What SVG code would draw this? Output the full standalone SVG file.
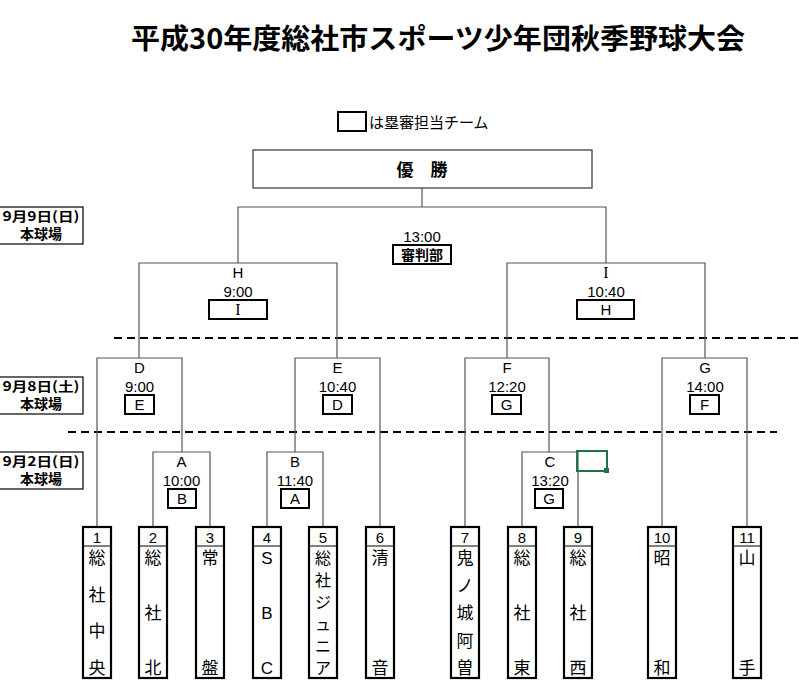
<svg xmlns="http://www.w3.org/2000/svg" width="799" height="690" viewBox="0 0 799 690">
<style>
.bg{fill:#fff}
.ln{fill:none;stroke:#555;stroke-width:1.2}
.dash{fill:none;stroke:#000;stroke-width:2;stroke-dasharray:8 5}
.rb{fill:#fff;stroke:#000;stroke-width:2}
.tb{fill:#fff;stroke:#000;stroke-width:2.2}
.dv{stroke:#000;stroke-width:1}
.thin{fill:#fff;stroke:#333;stroke-width:1.2}
.lat{font-family:"Liberation Sans",Arial,sans-serif;font-size:15px;fill:#000;text-anchor:middle}
.ser{font-family:"Liberation Serif","Times New Roman",serif;font-size:16px;fill:#000;text-anchor:middle}
.jp{font-family:"Noto Sans CJK JP","Noto Sans",sans-serif;fill:#000;text-anchor:middle}
.jpb{font-family:"Noto Sans CJK JP","Noto Sans",sans-serif;font-weight:bold;fill:#000;text-anchor:middle}
.nm{font-family:"Noto Sans CJK JP","Liberation Sans",sans-serif;font-size:17px;fill:#000;text-anchor:middle}
.num{font-family:"Liberation Sans",Arial,sans-serif;font-size:15px;fill:#000;text-anchor:middle}
</style>
<rect class="bg" x="0" y="0" width="799" height="690"/>

<g id="title">
<text x="131" y="49" class="jpb" style="text-anchor:start;font-size:28px" textLength="614" lengthAdjust="spacingAndGlyphs">平成30年度総社市スポーツ少年団秋季野球大会</text>
</g>

<g id="legend">
<rect class="rb" x="338" y="112" width="28" height="19"/>
<text x="369" y="128" class="jp" style="text-anchor:start;font-size:15px">は塁審担当チーム</text>
</g>

<g id="dates">
<g id="date-0909">
<rect x="-1" y="207" width="84" height="37" fill="#fff" stroke="#000" stroke-width="1.2"/>
<text x="41" y="221" class="jpb" style="font-size:13px" textLength="77" lengthAdjust="spacingAndGlyphs">9月9日(日)</text>
<text x="41" y="239" class="jpb" style="font-size:14px">本球場</text>
</g>
<g id="date-0908">
<rect x="-1" y="377" width="84" height="37" fill="#fff" stroke="#000" stroke-width="1.2"/>
<text x="41" y="391" class="jpb" style="font-size:13px" textLength="77" lengthAdjust="spacingAndGlyphs">9月8日(土)</text>
<text x="41" y="409" class="jpb" style="font-size:14px">本球場</text>
</g>
<g id="date-0902">
<rect x="-1" y="452" width="84" height="37" fill="#fff" stroke="#000" stroke-width="1.2"/>
<text x="41" y="466" class="jpb" style="font-size:13px" textLength="77" lengthAdjust="spacingAndGlyphs">9月2日(日)</text>
<text x="41" y="484" class="jpb" style="font-size:14px">本球場</text>
</g>
</g>

<g id="dividers">
<line class="dash" x1="114" y1="338" x2="799" y2="338"/>
<line class="dash" x1="68" y1="432" x2="777" y2="432"/>
</g>

<g id="connectors">
<path class="ln" d="M422 188V207M238 263V207H606V263"/>
<path class="ln" d="M139 358V263H337V358"/>
<path class="ln" d="M507 358V263H705V358"/>
<path class="ln" d="M97 527V358H182V452"/>
<path class="ln" d="M295 452V358H380V527"/>
<path class="ln" d="M465 527V358H549V452"/>
<path class="ln" d="M662 527V358H747V527"/>
<path class="ln" d="M153 527V452H210V527"/>
<path class="ln" d="M267 527V452H323V527"/>
<path class="ln" d="M522 527V452H578V527"/>
</g>

<g id="final">
<rect class="thin" x="253" y="150" width="339" height="38"/>
<text x="422" y="176" class="jpb" style="font-size:17px" xml:space="preserve">優　勝</text>
<text x="422" y="242" class="lat">13:00</text>
<rect class="rb" x="393" y="245" width="58" height="19"/>
<text x="422" y="260" class="jpb" style="font-size:14px">審判部</text>
</g>

<g id="match-H">
<text x="238" y="278" class="lat">H</text>
<text x="238" y="297" class="lat">9:00</text>
<rect class="rb" x="209" y="300" width="58" height="19"/>
<text x="238" y="315" class="ser">I</text>
</g>
<g id="match-I">
<text x="606" y="278" class="ser">I</text>
<text x="606" y="297" class="lat">10:40</text>
<rect class="rb" x="577" y="300" width="57" height="19"/>
<text x="606" y="315" class="lat">H</text>
</g>

<g id="match-D">
<text x="139.5" y="373" class="lat">D</text>
<text x="139.5" y="392" class="lat">9:00</text>
<rect class="rb" x="125" y="395" width="29" height="19"/>
<text x="139.5" y="410" class="lat">E</text>
</g>
<g id="match-E">
<text x="337.5" y="373" class="lat">E</text>
<text x="337.5" y="392" class="lat">10:40</text>
<rect class="rb" x="323" y="395" width="29" height="19"/>
<text x="337.5" y="410" class="lat">D</text>
</g>
<g id="match-F">
<text x="507" y="373" class="lat">F</text>
<text x="507" y="392" class="lat">12:20</text>
<rect class="rb" x="492" y="395" width="29" height="19"/>
<text x="506.5" y="410" class="lat">G</text>
</g>
<g id="match-G">
<text x="705" y="373" class="lat">G</text>
<text x="705" y="392" class="lat">14:00</text>
<rect class="rb" x="690" y="395" width="29" height="19"/>
<text x="704.5" y="410" class="lat">F</text>
</g>

<g id="match-A">
<text x="181.5" y="467" class="lat">A</text>
<text x="181.5" y="486" class="lat">10:00</text>
<rect class="rb" x="168" y="489" width="28" height="19"/>
<text x="182" y="504" class="lat">B</text>
</g>
<g id="match-B">
<text x="295" y="467" class="lat">B</text>
<text x="295" y="486" class="lat">11:40</text>
<rect class="rb" x="281" y="489" width="28" height="19"/>
<text x="295" y="504" class="lat">A</text>
</g>
<g id="match-C">
<text x="550" y="467" class="lat">C</text>
<text x="550" y="486" class="lat">13:20</text>
<rect class="rb" x="535" y="489" width="28" height="19"/>
<text x="549" y="504" class="lat">G</text>
</g>

<g id="selection">
<rect x="577" y="451" width="30" height="20" fill="none" stroke="#217346" stroke-width="2"/>
<rect x="604" y="468" width="5" height="5" fill="#217346"/>
</g>

<g id="team-1">
<rect class="tb" x="83" y="527" width="28" height="151"/><line class="dv" x1="83" y1="546" x2="111" y2="546"/>
<text x="97" y="543" class="num">1</text>
<text class="nm"><tspan x="97" y="564">総</tspan><tspan x="97" y="601">社</tspan><tspan x="97" y="637">中</tspan><tspan x="97" y="674">央</tspan></text>
</g>
<g id="team-2">
<rect class="tb" x="139" y="527" width="28" height="151"/><line class="dv" x1="139" y1="546" x2="167" y2="546"/>
<text x="153" y="543" class="num">2</text>
<text class="nm"><tspan x="153" y="564">総</tspan><tspan x="153" y="619">社</tspan><tspan x="153" y="674">北</tspan></text>
</g>
<g id="team-3">
<rect class="tb" x="196" y="527" width="28" height="151"/><line class="dv" x1="196" y1="546" x2="224" y2="546"/>
<text x="210" y="543" class="num">3</text>
<text class="nm"><tspan x="210" y="564">常</tspan><tspan x="210" y="674">盤</tspan></text>
</g>
<g id="team-4">
<rect class="tb" x="253" y="527" width="28" height="151"/><line class="dv" x1="253" y1="546" x2="281" y2="546"/>
<text x="267" y="543" class="num">4</text>
<text class="nm" style="font-family:'Liberation Sans',Arial,sans-serif"><tspan x="267" y="564">S</tspan><tspan x="267" y="619">B</tspan><tspan x="267" y="674">C</tspan></text>
</g>
<g id="team-5">
<rect class="tb" x="309" y="527" width="28" height="151"/><line class="dv" x1="309" y1="546" x2="337" y2="546"/>
<text x="323" y="543" class="num">5</text>
<text class="nm" style="font-size:16px"><tspan x="323" y="564">総</tspan><tspan x="323" y="586">社</tspan><tspan x="323" y="608">ジ</tspan><tspan x="323" y="630">ュ</tspan><tspan x="323" y="652">ニ</tspan><tspan x="323" y="674">ア</tspan></text>
</g>
<g id="team-6">
<rect class="tb" x="366" y="527" width="28" height="151"/><line class="dv" x1="366" y1="546" x2="394" y2="546"/>
<text x="380" y="543" class="num">6</text>
<text class="nm"><tspan x="380" y="564">清</tspan><tspan x="380" y="674">音</tspan></text>
</g>
<g id="team-7">
<rect class="tb" x="451" y="527" width="28" height="151"/><line class="dv" x1="451" y1="546" x2="479" y2="546"/>
<text x="465" y="543" class="num">7</text>
<text class="nm"><tspan x="465" y="564">鬼</tspan><tspan x="465" y="591.5">ノ</tspan><tspan x="465" y="619">城</tspan><tspan x="465" y="646.5">阿</tspan><tspan x="465" y="674">曽</tspan></text>
</g>
<g id="team-8">
<rect class="tb" x="508" y="527" width="28" height="151"/><line class="dv" x1="508" y1="546" x2="536" y2="546"/>
<text x="522" y="543" class="num">8</text>
<text class="nm"><tspan x="522" y="564">総</tspan><tspan x="522" y="619">社</tspan><tspan x="522" y="674">東</tspan></text>
</g>
<g id="team-9">
<rect class="tb" x="564" y="527" width="28" height="151"/><line class="dv" x1="564" y1="546" x2="592" y2="546"/>
<text x="578" y="543" class="num">9</text>
<text class="nm"><tspan x="578" y="564">総</tspan><tspan x="578" y="619">社</tspan><tspan x="578" y="674">西</tspan></text>
</g>
<g id="team-10">
<rect class="tb" x="648" y="527" width="28" height="151"/><line class="dv" x1="648" y1="546" x2="676" y2="546"/>
<text x="662" y="543" class="num">10</text>
<text class="nm"><tspan x="662" y="564">昭</tspan><tspan x="662" y="674">和</tspan></text>
</g>
<g id="team-11">
<rect class="tb" x="733" y="527" width="28" height="151"/><line class="dv" x1="733" y1="546" x2="761" y2="546"/>
<text x="747" y="543" class="num">11</text>
<text class="nm"><tspan x="747" y="564">山</tspan><tspan x="747" y="674">手</tspan></text>
</g>
</svg>
